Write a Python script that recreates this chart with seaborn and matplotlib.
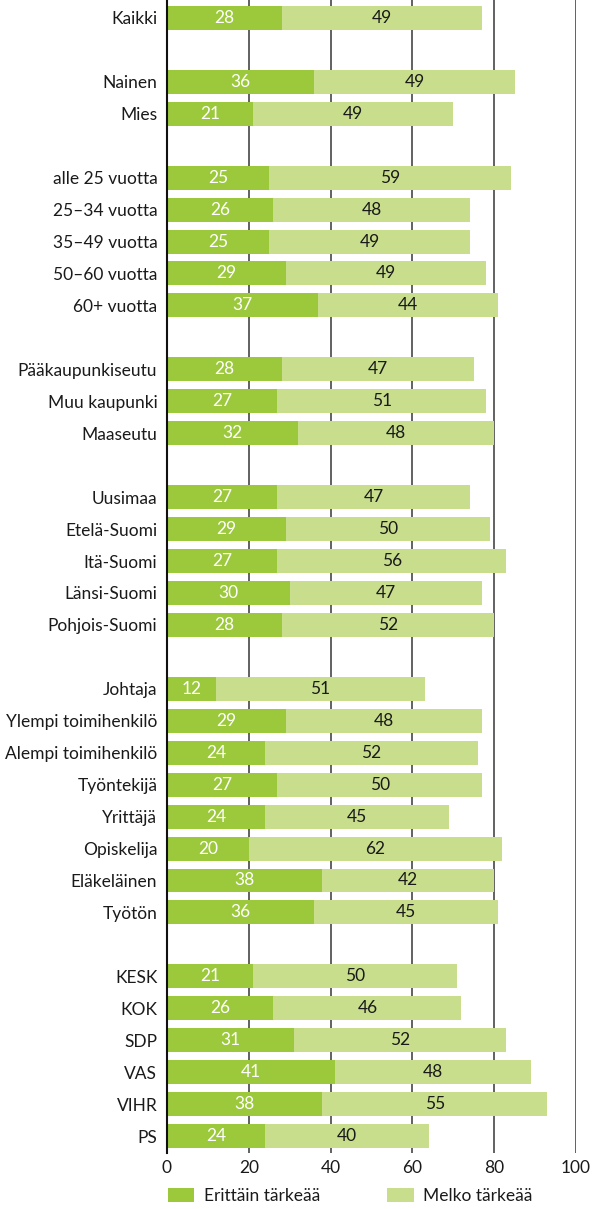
import matplotlib
matplotlib.use("Agg")
import matplotlib.pyplot as plt
import seaborn as sns
import pandas as pd
import numpy as np
from matplotlib.patches import Patch

sns.set_theme(style="white")
plt.rcParams['font.family'] = ['Lato', 'DejaVu Sans']

# ---- data ----
groups = [
    ["Kaikki"],
    ["Nainen", "Mies"],
    ["alle 25 vuotta", "25–34 vuotta", "35–49 vuotta", "50–60 vuotta", "60+ vuotta"],
    ["Pääkaupunkiseutu", "Muu kaupunki", "Maaseutu"],
    ["Uusimaa", "Etelä-Suomi", "Itä-Suomi", "Länsi-Suomi", "Pohjois-Suomi"],
    ["Johtaja", "Ylempi toimihenkilö", "Alempi toimihenkilö", "Työntekijä",
     "Yrittäjä", "Opiskelija", "Eläkeläinen", "Työtön"],
    ["KESK", "KOK", "SDP", "VAS", "VIHR", "PS"],
]
erittain = [28, 36, 21, 25, 26, 25, 29, 37, 28, 27, 32, 27, 29, 27, 30, 28,
            12, 29, 24, 27, 24, 20, 38, 36, 21, 26, 31, 41, 38, 24]
melko = [49, 49, 49, 59, 48, 49, 49, 44, 47, 51, 48, 47, 50, 56, 47, 52,
         51, 48, 52, 50, 45, 62, 42, 45, 50, 46, 52, 48, 55, 40]
series_names = ["Erittäin tärkeää", "Melko tärkeää"]
xticks = [0, 20, 40, 60, 80, 100]

dark = "#9cc93c"
light = "#c8de8c"
FS = 12.5

# ---- build order with blank separator rows ----
categories = [c for g in groups for c in g]
order = []
for i, g in enumerate(groups):
    if i > 0:
        order.append(" " * i)
    order.extend(g)

df = pd.DataFrame({"cat": categories, "e": erittain, "m": melko})
df["total"] = df["e"] + df["m"]

fig = plt.figure(figsize=(5.93, 12.09), dpi=100)
ax = fig.add_axes([167 / 593, 1 - 1153 / 1209, (576 - 167) / 593, 1153 / 1209])

sns.barplot(data=df, x="total", y="cat", order=order, color=light, width=0.75,
            saturation=1, errorbar=None, ax=ax, zorder=2, linewidth=0, edgecolor="none")
sns.barplot(data=df, x="e", y="cat", order=order, color=dark, width=0.75,
            saturation=1, errorbar=None, ax=ax, zorder=3, linewidth=0, edgecolor="none")

pos = {c: order.index(c) for c in categories}
for _, r in df.iterrows():
    y = pos[r["cat"]]
    ax.text(r["e"] / 2, y, f"{r['e']}", ha="center", va="center",
            color="white", fontsize=FS, zorder=4)
    ax.text(r["e"] + r["m"] / 2, y, f"{r['m']}", ha="center", va="center",
            color="#1a1a1a", fontsize=FS, zorder=4)

ax.set_xlim(0, 100)
ax.set_ylim(len(order) - 1 + 0.53, -0.56)
ax.set_xticks(xticks)
ax.set_xlabel("")
ax.set_ylabel("")
for x in xticks[1:]:
    ax.axvline(x, color="#555555", lw=1.3, zorder=1)
for s in ["top", "right", "bottom"]:
    ax.spines[s].set_visible(False)
ax.spines["left"].set_color("#111111")
ax.spines["left"].set_linewidth(1.5)
ax.spines["left"].set_zorder(5)
ax.tick_params(axis="both", length=0, labelsize=FS, colors="#1a1a1a")
ax.tick_params(axis="y", pad=7)
ax.tick_params(axis="x", pad=5)
for lab in ax.get_xticklabels():
    lab.set_clip_on(False)

handles = [Patch(facecolor=dark, edgecolor="none"), Patch(facecolor=light, edgecolor="none")]
fig.legend(handles, series_names, loc="center left",
           bbox_to_anchor=(161 / 593, 1 - 1196 / 1209), ncol=2, frameon=False,
           fontsize=FS, handlelength=1.5, handleheight=0.9, handletextpad=0.55,
           columnspacing=3.9, borderaxespad=0, labelcolor="#1a1a1a")

fig.savefig("out.png", dpi=100)
